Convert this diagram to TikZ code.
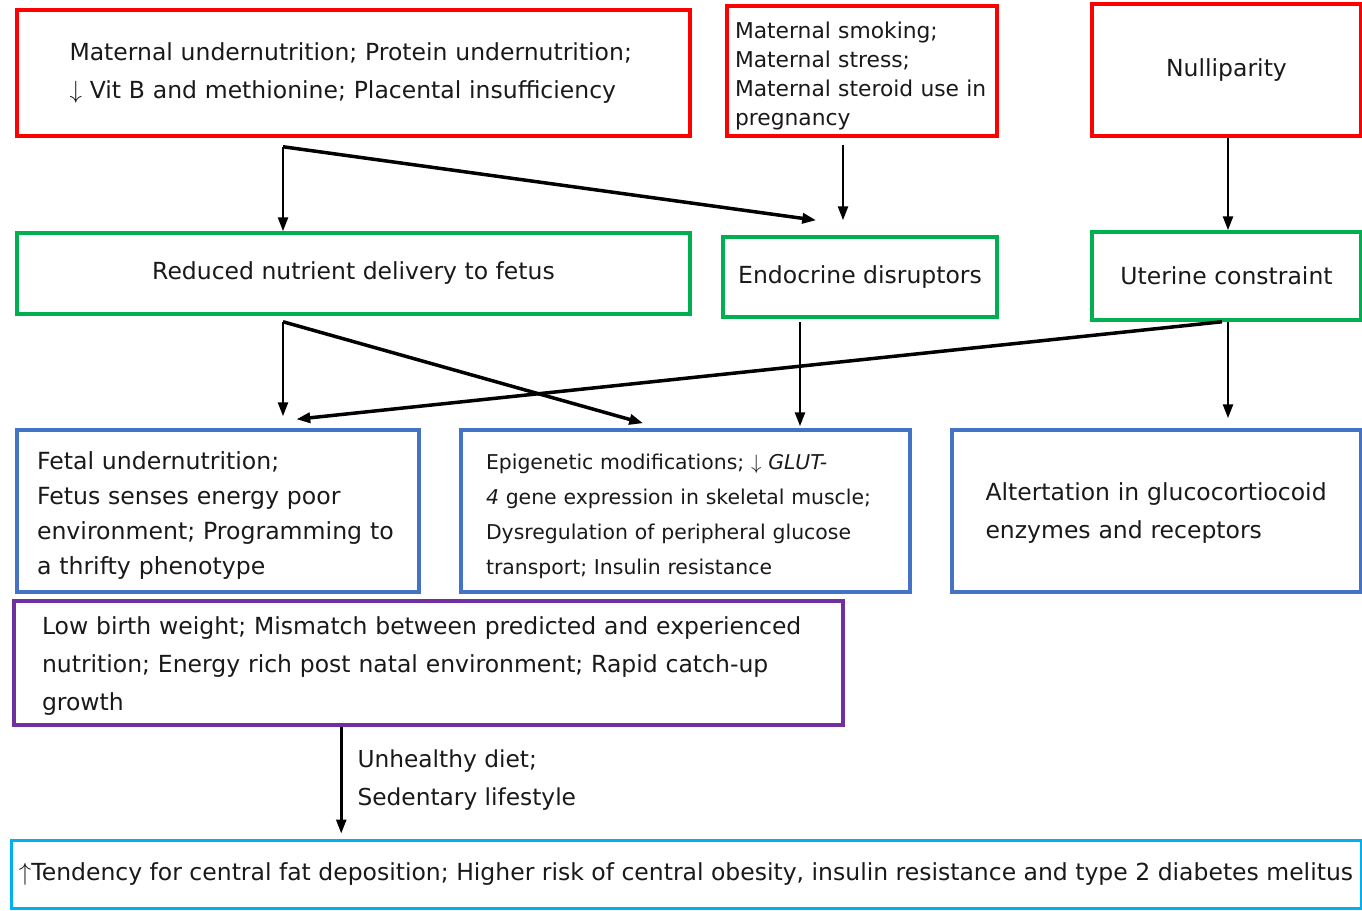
\documentclass[tikz,border=0pt]{standalone}
\usepackage{fontspec}
\setmainfont{DejaVu Sans}
\usetikzlibrary{arrows.meta,calc}
\definecolor{boxred}{RGB}{255,0,0}
\definecolor{boxgreen}{RGB}{0,176,80}
\definecolor{boxblue}{RGB}{68,114,196}
\definecolor{boxpurple}{RGB}{112,48,160}
\definecolor{boxcyan}{RGB}{0,176,240}

\begin{document}
\begin{tikzpicture}[x=1pt, y=-1pt, line join=miter,
  box/.style={draw, line width=3.5pt, inner sep=0pt, align=left, text=black!90,
    font=\fontsize{23.5}{38}\selectfont},
  cause/.style={box, draw=boxred},
  effect/.style={box, draw=boxgreen, align=center},
  fetal/.style={box, draw=boxblue},
  birth/.style={box, draw=boxpurple},
  risk/.style={box, draw=boxcyan, align=center, line width=3pt},
  lower/.style={execute at begin node={\rule{0pt}{#1}}},
  arr/.style={line width=2.5pt, -{Triangle[length=14pt,width=10pt]}},
  diag/.style={arr, line width=3.5pt}]
  \useasboundingbox (0,0) rectangle (1362,910);

  % causes
  \node[cause, minimum width=673pt, minimum height=126pt, text width=568pt] (mat) at (353.5,73)
    {Maternal undernutrition; Protein undernutrition;\\ $\downarrow$ Vit B and methionine; Placental insufficiency};
  \node[cause, minimum width=270pt, minimum height=130pt, text width=254pt, lower=26.6pt,
    font=\fontsize{21.8}{29}\selectfont] (smk) at (862,71)
    {Maternal smoking;\\ Maternal stress;\\ Maternal steroid use in\\ pregnancy};
  \node[cause, minimum width=269pt, minimum height=132pt, align=center] (nul) at (1226.5,70) {Nulliparity};

  % effects
  \node[effect, minimum width=673pt, minimum height=81pt] (nut) at (353.5,273.5) {Reduced nutrient delivery to fetus};
  \node[effect, minimum width=274pt, minimum height=80pt] (endo) at (860,277) {Endocrine disruptors};
  \node[effect, minimum width=269pt, minimum height=88pt] (ute) at (1226.5,276) {Uterine constraint};

  % fetal changes
  \node[fetal, minimum width=402pt, minimum height=162pt, text width=362pt, lower=26pt,
    font=\fontsize{23.6}{35}\selectfont] (fet) at (218,511)
    {Fetal undernutrition;\\ Fetus senses energy poor\\ environment; Programming to\\ a thrifty phenotype};
  \node[fetal, minimum width=449pt, minimum height=162pt, text width=399pt, lower=25.5pt,
    font=\fontsize{20.4}{35}\selectfont] (epi) at (685.5,511)
    {Epigenetic modifications; $\downarrow$ \textit{GLUT-}\\ \textit{4} gene expression in skeletal muscle;\\ Dysregulation of peripheral glucose\\ transport; Insulin resistance};
  \node[fetal, minimum width=409pt, minimum height=162pt, text width=342pt, lower=22pt] (glc) at (1156.5,511)
    {Altertation in glucocortiocoid\\ enzymes and receptors};

  % outcome
  \node[birth, minimum width=829pt, minimum height=124pt, text width=773pt, lower=24pt] (low) at (428.5,663)
    {Low birth weight; Mismatch between predicted and experienced\\ nutrition; Energy rich post natal environment; Rapid catch-up\\ growth};
  \node[risk, minimum width=1350pt, minimum height=68pt] (ris) at (686,874)
    {$\uparrow$Tendency for central fat deposition; Higher risk of central obesity, insulin resistance and type 2 diabetes melitus};

  % connectors
  \coordinate (split1) at ($(mat.south)+(-70.5,9)$);
  \draw[arr] (split1) -- (split1 |- nut.north);
  \draw[diag] (split1) -- ($(endo.north west)+(95,-15)$);
  \draw[arr] ($(smk.south)+(-19,7)$) -- ($(endo.north)+(-17,-15)$);
  \draw[arr] ($(nul.south)+(1.5,0)$) -- ($(ute.north)+(1.5,0)$);

  \coordinate (split2) at ($(nut.south)+(-70.5,6)$);
  \draw[arr] (split2) -- ($(split2 |- fet.north)+(0,-12)$);
  \draw[diag] (split2) -- ($(epi.north west)+(184,-5)$);
  \draw[arr] ($(endo.south)+(-60,3)$) -- ($(endo.south |- epi.north)+(-60,-2)$);

  \coordinate (split3) at ($(ute.south)+(1.5,0)$);
  \draw[diag] ($(split3)+(-6,0)$) -- ($(fet.north west)+(281,-9)$);
  \draw[arr] (split3) -- ($(split3 |- glc.north)+(0,-10)$);

  \draw[arr] ($(low.south west)+(329,0)$) -- ($(low.south west |- ris.north)+(329,-5)$)
    node[midway, right, xshift=15pt, align=left, inner sep=0pt, text=black!90,
      font=\fontsize{23.3}{38}\selectfont] (lbl) {Unhealthy diet;\\ Sedentary lifestyle};
\end{tikzpicture}
\end{document}
